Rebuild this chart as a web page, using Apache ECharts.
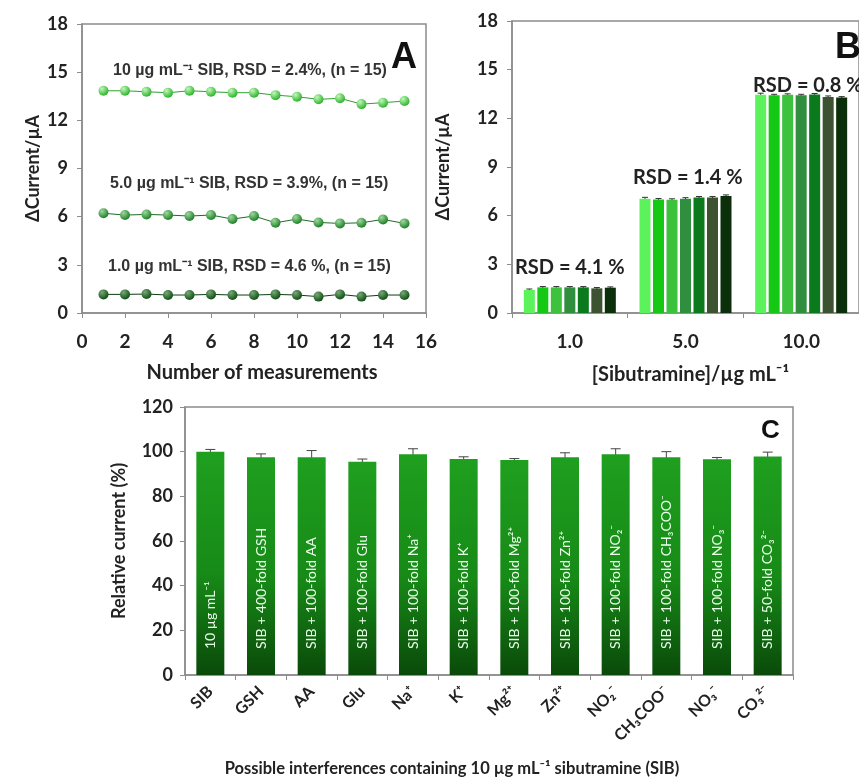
<!DOCTYPE html>
<html>
<head>
<meta charset="utf-8">
<title>Sibutramine sensor repeatability and interference</title>
<script src="https://cdn.jsdelivr.net/npm/echarts@6/dist/echarts.min.js"></script>
<style>
  html, body { margin: 0; padding: 0; background: #fff; }
  #chart { width: 859px; height: 781px; }
</style>
</head>
<body>
<div id="chart"></div>
<script>
// ── Panel A: repeated measurements (n = 15) ───────────────────
const measurementNo = [1, 2, 3, 4, 5, 6, 7, 8, 9, 10, 11, 12, 13, 14, 15];
const currentA10 = [13.84, 13.84, 13.78, 13.72, 13.84, 13.78, 13.72, 13.72, 13.57, 13.47, 13.31, 13.37, 13.01, 13.10, 13.20];
const currentA5 = [6.21, 6.10, 6.14, 6.10, 6.04, 6.10, 5.85, 6.04, 5.62, 5.85, 5.64, 5.58, 5.62, 5.83, 5.58];
const currentA1 = [1.16, 1.16, 1.18, 1.12, 1.12, 1.16, 1.12, 1.12, 1.16, 1.12, 1.02, 1.16, 1.02, 1.12, 1.12];

// ── Panel B: seven electrodes at three concentrations ─────────
const concLabels = ['1.0', '5.0', '10.0'];
const electrodeB = [
  [1.42, 7.05, 13.45],
  [1.58, 7.00, 13.42],
  [1.58, 6.98, 13.45],
  [1.58, 7.05, 13.42],
  [1.58, 7.12, 13.47],
  [1.52, 7.12, 13.32],
  [1.56, 7.22, 13.28]
];
const electrodeErrB = [
  [0.06, 0.08, 0.10],
  [0.05, 0.06, 0.06],
  [0.05, 0.06, 0.06],
  [0.05, 0.06, 0.06],
  [0.05, 0.06, 0.06],
  [0.05, 0.06, 0.06],
  [0.05, 0.06, 0.06]
];
const electrodeColors = ['#5cf25c', '#14c814', '#3cc23c', '#2f8f3f', '#0b7a1d', '#3d5230', '#0b2e0b'];
const rsdB = ['RSD = 4.1 %', 'RSD = 1.4 %', 'RSD = 0.8 %'];

// ── Panel C: interference study ───────────────────────────────
const interfTicks = ['SIB', 'GSH', 'AA', 'Glu', 'Na⁺', 'K⁺', 'Mg²⁺', 'Zn²⁺', 'NO₂⁻', 'CH₃COO⁻', 'NO₃⁻', 'CO₃²⁻'];
const interfBarText = ['10 µg mL⁻¹', 'SIB + 400-fold GSH', 'SIB + 100-fold AA', 'SIB + 100-fold Glu',
  'SIB + 100-fold Na⁺', 'SIB + 100-fold K⁺', 'SIB + 100-fold Mg²⁺', 'SIB + 100-fold Zn²⁺',
  'SIB + 100-fold NO₂⁻', 'SIB + 100-fold CH₃COO⁻', 'SIB + 100-fold NO₃⁻', 'SIB + 50-fold CO₃²⁻'];
const relCurrent = [100, 97.5, 97.5, 95.5, 98.8, 96.7, 96.3, 97.5, 98.8, 97.5, 96.6, 97.8];
const relErr = [1.0, 1.5, 3.0, 1.2, 2.5, 1.0, 0.6, 2.0, 2.5, 2.5, 0.8, 2.0];

(function () {
  'use strict';

  const chart = echarts.init(document.getElementById('chart'), null, { renderer: 'canvas' });
  const AX = '#8c8c8c';
  const TXT = '#222';
  const FONT = 'Lato, "Open Sans", "DejaVu Sans", sans-serif';
  const ARIAL = '"Liberation Sans", Arial, sans-serif';

  const sphere = (hi, base) => new echarts.graphic.RadialGradient(0.35, 0.3, 0.75, [
    { offset: 0, color: hi }, { offset: 1, color: base }
  ]);

  const lineSeries = (vals, hi, base, line) => ({
    type: 'line', xAxisIndex: 0, yAxisIndex: 0,
    data: measurementNo.map((n, i) => [n, vals[i]]),
    symbol: 'circle', symbolSize: 10,
    itemStyle: { color: sphere(hi, base), borderWidth: 0 },
    lineStyle: { color: line, width: 1 },
    z: 3
  });

  // bar geometry in panel B (used for error bar offsets)
  const BW = 11, BGAP = 2.5;
  const nB = electrodeB.length;
  const totalB = nB * BW + (nB - 1) * BGAP;

  const errB = [];
  electrodeB.forEach((row, s) => row.forEach((v, c) => errB.push([c, s, v, electrodeErrB[s][c]])));

  const barsB = electrodeB.map((row, s) => ({
    type: 'bar', xAxisIndex: 1, yAxisIndex: 1,
    data: row, barWidth: BW, barGap: (BGAP / BW * 100) + '%',
    itemStyle: { color: electrodeColors[s] }, z: 2
  }));

  const errBarItem = (x, yTop, yBot, half, color) => ({
    type: 'group',
    children: [
      { type: 'line', shape: { x1: x, y1: yTop, x2: x, y2: yBot }, style: { stroke: color, lineWidth: 1 } },
      { type: 'line', shape: { x1: x - half, y1: yTop, x2: x + half, y2: yTop }, style: { stroke: color, lineWidth: 1 } }
    ]
  });

  const axisLine = { show: true, lineStyle: { color: AX, width: 1.5 } };
  const axisTick = { show: true, lineStyle: { color: AX }, length: 5 };

  const option = {
    animation: false,
    backgroundColor: '#fff',
    textStyle: { fontFamily: FONT },
    grid: [
      { left: 82, top: 24, width: 344, height: 289, show: true, borderColor: AX, borderWidth: 1.5 },
      { left: 512, top: 21, width: 356, height: 292, show: true, borderColor: AX, borderWidth: 1.5 },
      { left: 185, top: 407, width: 608, height: 268, show: true, borderColor: AX, borderWidth: 1.5 }
    ],
    xAxis: [
      {
        gridIndex: 0, type: 'value', min: 0, max: 16, interval: 2,
        name: 'Number of measurements', nameLocation: 'middle', nameGap: 50,
        nameTextStyle: { color: TXT, fontSize: 20, fontWeight: 'bold', fontFamily: FONT, padding: [0, 0, 0, 16] },
        axisLine, axisTick,
        axisLabel: { color: TXT, fontSize: 19, fontWeight: 'bold', margin: 19, fontFamily: FONT },
        splitLine: { show: false }
      },
      {
        gridIndex: 1, type: 'category', data: concLabels,
        name: '[Sibutramine]/µg mL⁻¹', nameLocation: 'middle', nameGap: 52,
        nameTextStyle: { color: TXT, fontSize: 20, fontWeight: 'bold', fontFamily: FONT, padding: [0, 0, 0, 10] },
        axisLine, axisTick,
        axisLabel: { color: TXT, fontSize: 19, fontWeight: 'bold', margin: 19, fontFamily: FONT },
        splitLine: { show: false }
      },
      {
        gridIndex: 2, type: 'category', data: interfTicks,
        name: 'Possible interferences containing 10 µg mL⁻¹ sibutramine (SIB)',
        nameLocation: 'middle', nameGap: 85,
        nameTextStyle: { color: TXT, fontSize: 16.5, fontWeight: 'bold', fontFamily: FONT, padding: [0, 74, 0, 0] },
        axisLine, axisTick,
        axisLabel: { color: TXT, fontSize: 16, fontWeight: 'bold', rotate: 45, interval: 0, margin: 14, fontFamily: FONT },
        splitLine: { show: false }
      }
    ],
    yAxis: [
      {
        gridIndex: 0, type: 'value', min: 0, max: 18, interval: 3,
        name: 'ΔCurrent/µA', nameLocation: 'middle', nameGap: 40,
        nameTextStyle: { color: TXT, fontSize: 18, fontWeight: 'bold', fontFamily: FONT },
        axisLine, axisTick,
        axisLabel: { color: TXT, fontSize: 18, fontWeight: 'bold', margin: 14, fontFamily: FONT },
        splitLine: { show: false }
      },
      {
        gridIndex: 1, type: 'value', min: 0, max: 18, interval: 3,
        name: 'ΔCurrent/µA', nameLocation: 'middle', nameGap: 60,
        nameTextStyle: { color: TXT, fontSize: 18, fontWeight: 'bold', fontFamily: FONT },
        axisLine, axisTick,
        axisLabel: { color: TXT, fontSize: 18, fontWeight: 'bold', margin: 14, fontFamily: FONT },
        splitLine: { show: false }
      },
      {
        gridIndex: 2, type: 'value', min: 0, max: 120, interval: 20,
        name: 'Relative current (%)', nameLocation: 'middle', nameGap: 57,
        nameTextStyle: { color: TXT, fontSize: 18, fontWeight: 'bold', fontFamily: FONT },
        axisLine, axisTick,
        axisLabel: { color: TXT, fontSize: 18, fontWeight: 'bold', margin: 12, fontFamily: FONT },
        splitLine: { show: false }
      }
    ],
    series: [
      lineSeries(currentA10, '#c4f7bc', '#22b022', '#33a033'),
      lineSeries(currentA5, '#9ed89e', '#187a20', '#1f6a26'),
      lineSeries(currentA1, '#78a878', '#0a4a0f', '#0d3d10'),
      ...barsB,
      {
        type: 'custom', xAxisIndex: 1, yAxisIndex: 1, z: 1,
        encode: { x: 0, y: 2 },
        data: errB,
        renderItem: (params, api) => {
          const c = api.value(0), s = api.value(1), v = api.value(2), e = api.value(3);
          const off = -totalB / 2 + BW / 2 + s * (BW + BGAP);
          const top = api.coord([c, v + e]);
          const bot = api.coord([c, v - e]);
          return errBarItem(top[0] + off, top[1], bot[1], 3, '#333');
        }
      },
      {
        type: 'bar', xAxisIndex: 2, yAxisIndex: 2, z: 2,
        data: relCurrent, barWidth: 28,
        itemStyle: {
          color: new echarts.graphic.LinearGradient(0, 0, 0, 1, [
            { offset: 0, color: '#1f9f1f' },
            { offset: 0.55, color: '#178a17' },
            { offset: 1, color: '#0a4a0a' }
          ])
        },
        label: {
          show: true, position: 'insideBottom', distance: 26, rotate: 90,
          align: 'left', verticalAlign: 'middle',
          color: '#eaffea', fontSize: 14, fontFamily: FONT,
          formatter: p => interfBarText[p.dataIndex]
        }
      },
      {
        type: 'custom', xAxisIndex: 2, yAxisIndex: 2, z: 1,
        encode: { x: 0, y: 1 },
        data: relCurrent.map((v, i) => [i, v, relErr[i]]),
        renderItem: (params, api) => {
          const i = api.value(0), v = api.value(1), e = api.value(2);
          const top = api.coord([i, v + e]);
          const bot = api.coord([i, v - e]);
          return errBarItem(top[0], top[1], bot[1], 5, '#444');
        }
      }
    ],
    graphic: [
      { type: 'text', left: 113, top: 63, style: { text: '10 µg mL⁻¹ SIB, RSD = 2.4%, (n = 15)', font: 'bold 16px ' + ARIAL, fill: '#333' } },
      { type: 'text', left: 110, top: 176, style: { text: '5.0 µg mL⁻¹ SIB, RSD = 3.9%, (n = 15)', font: 'bold 16px ' + ARIAL, fill: '#333' } },
      { type: 'text', left: 108, top: 259, style: { text: '1.0 µg mL⁻¹ SIB, RSD = 4.6 %, (n = 15)', font: 'bold 16px ' + ARIAL, fill: '#333' } },
      { type: 'text', left: 391, top: 40, style: { text: 'A', font: 'bold 36px ' + ARIAL, fill: '#111' } },
      { type: 'text', left: 515, top: 258, style: { text: rsdB[0], font: 'bold 20px ' + FONT, fill: '#222' } },
      { type: 'text', left: 633, top: 168, style: { text: rsdB[1], font: 'bold 20px ' + FONT, fill: '#222' } },
      { type: 'text', left: 753, top: 76, style: { text: rsdB[2], font: 'bold 20px ' + FONT, fill: '#222' } },
      { type: 'text', left: 835, top: 30, style: { text: 'B', font: 'bold 36px ' + ARIAL, fill: '#111' } },
      { type: 'text', left: 761, top: 418, style: { text: 'C', font: 'bold 26px ' + ARIAL, fill: '#111' } }
    ]
  };

  chart.setOption(option);
  window.addEventListener('resize', () => chart.resize());
})();
</script>
</body>
</html>
